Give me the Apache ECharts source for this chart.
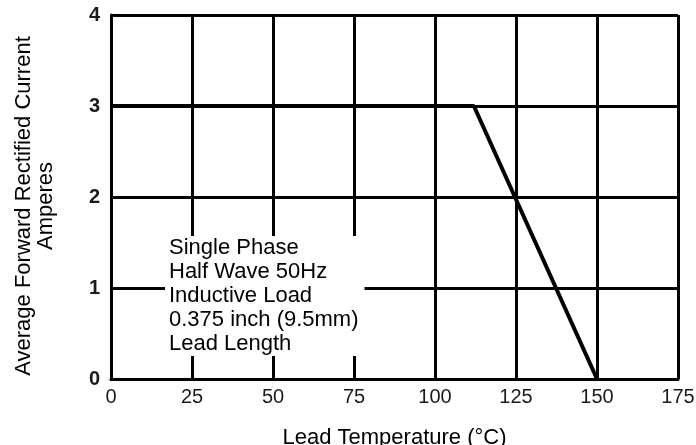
<!DOCTYPE html>
<html>
<head>
<meta charset="utf-8">
<script src="https://cdn.jsdelivr.net/npm/echarts@6/dist/echarts.min.js"></script>
<style>
html, body { margin: 0; padding: 0; background: #fff; }
#grafico { width: 696px; height: 445px; }
</style>
</head>
<body>
<div id="grafico"></div>
<script>
// dados do grafico (derating da corrente)
var temperaturas = [0, 112, 150];
var correntes = [3, 3, 0];
var ticksX = [0, 25, 50, 75, 100, 125, 150, 175];
var ticksY = [0, 1, 2, 3, 4];
var notas = ['Single Phase', 'Half Wave 50Hz', 'Inductive Load', '0.375 inch (9.5mm)', 'Lead Length'];

var pontos = temperaturas.map(function (t, i) { return [t, correntes[i]]; });
var fonte = 'Liberation Sans, Arial, sans-serif';
var linhaPreta = { color: '#000', width: 3 };

var myChart = echarts.init(document.getElementById('grafico'));
var option = {
    animation: false,
    backgroundColor: '#fff',
    grid: { left: 111, right: 18, top: 15, bottom: 66, containLabel: false, outerBoundsMode: 'none' },
    xAxis: {
        type: 'value',
        min: ticksX[0],
        max: ticksX[ticksX.length - 1],
        interval: 25,
        name: 'Lead Temperature (°C)',
        nameLocation: 'middle',
        nameGap: 48,
        nameTextStyle: { fontFamily: fonte, fontSize: 22, color: '#000' },
        axisLine: { show: true, lineStyle: linhaPreta },
        axisTick: { show: false },
        splitLine: { show: true, lineStyle: linhaPreta },
        axisLabel: { fontFamily: fonte, fontSize: 20, color: '#1a1a1a', margin: 8 }
    },
    yAxis: {
        type: 'value',
        min: ticksY[0],
        max: ticksY[ticksY.length - 1],
        interval: 1,
        name: 'Average Forward Rectified Current\nAmperes',
        nameLocation: 'middle',
        nameRotate: 90,
        nameGap: 54,
        nameTextStyle: { fontFamily: fonte, fontSize: 22, color: '#000', lineHeight: 22, padding: [0, 18, 0, 0] },
        axisLine: { show: true, lineStyle: linhaPreta },
        axisTick: { show: false },
        splitLine: { show: true, lineStyle: linhaPreta },
        axisLabel: { fontFamily: fonte, fontSize: 20, fontWeight: 'bold', color: '#1a1a1a', margin: 11 }
    },
    series: [
        {
            type: 'line',
            data: pontos,
            showSymbol: false,
            lineStyle: { color: '#000', width: 4 },
            z: 3
        }
    ],
    graphic: [
        {
            type: 'text',
            left: 165,
            top: 236,
            z: 100,
            style: {
                text: notas.join('\n'),
                font: '22px ' + fonte,
                fill: '#000',
                lineHeight: 24,
                backgroundColor: '#fff',
                padding: [0, 6, 0, 4]
            }
        }
    ]
};

myChart.setOption(option);
</script>
</body>
</html>
